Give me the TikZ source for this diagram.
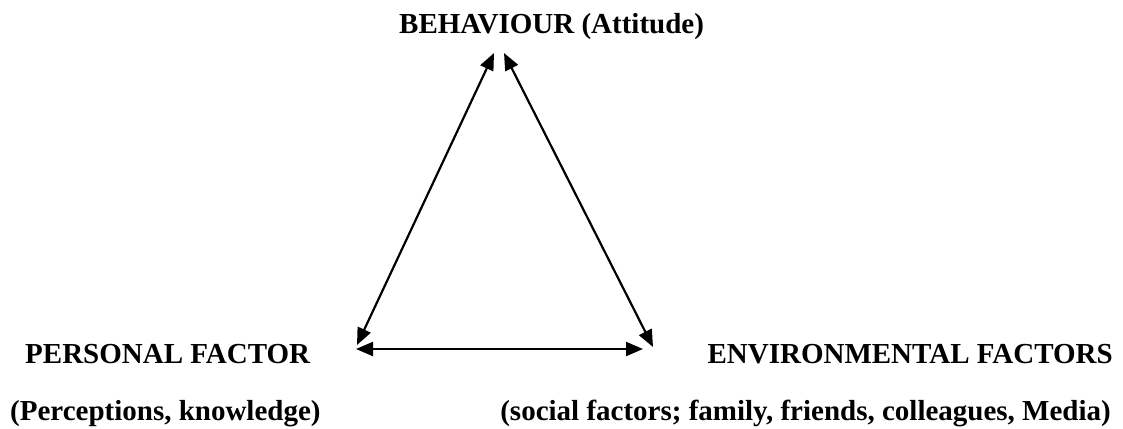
\documentclass[tikz,border=0pt]{standalone}
\usepackage{fontspec}
\setmainfont{Liberation Serif}
\usetikzlibrary{arrows.meta}
\begin{document}
\begin{tikzpicture}[x=1pt,y=-1pt,
  label/.style={inner sep=0pt,font=\fontsize{29}{35}\selectfont\bfseries},
  link/.style={line width=2.2pt,{Triangle[length=17pt,width=14pt]}-{Triangle[length=17pt,width=14pt]}}]
  \useasboundingbox (0,0) rectangle (1123,428);
  % labels
  \node[label,anchor=base west] (beh) at (399,34) {BEHAVIOUR (Attitude)};
  \node[label,anchor=base west] (pers) at (25,363) {PERSONAL FACTOR};
  \node[label,anchor=base east] (env) at (1113,363) {ENVIRONMENTAL FACTORS};
  \node[label,anchor=base west] (perssub) at (10,420) {(Perceptions, knowledge)};
  \node[label,anchor=base east] (envsub) at (1111,420) {(social factors; family, friends, colleagues, Media)};
  % arrow end points of the triangle
  \coordinate (topL) at (494,53);
  \coordinate (topR) at (504,53);
  \coordinate (botL) at (357,345);
  \coordinate (botR) at (653,347);
  \coordinate (midL) at (356,349);
  \coordinate (midR) at (643,349);
  \draw[link] (botL) -- (topL);
  \draw[link] (topR) -- (botR);
  \draw[link] (midL) -- (midR);
\end{tikzpicture}
\end{document}
